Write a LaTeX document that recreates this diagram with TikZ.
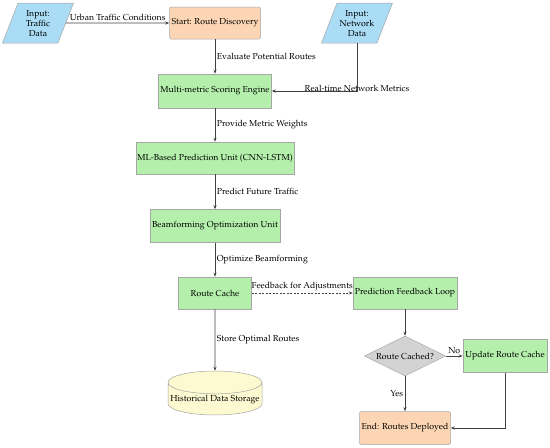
\documentclass[tikz,border=0pt]{standalone}
\usepackage[T1]{fontenc}
\usepackage{mathpazo}
\usetikzlibrary{shapes.geometric,arrows.meta}
\definecolor{inblue}{RGB}{170,220,246}
\definecolor{peach}{RGB}{252,214,180}
\definecolor{lgreen}{RGB}{180,240,172}
\definecolor{lyellow}{RGB}{253,249,208}
\definecolor{lgray}{RGB}{211,211,211}
\definecolor{edge}{RGB}{64,64,64}
\tikzset{
  base/.style={draw=black!35, line width=0.5pt, font=\fontsize{8.7}{10}\selectfont, inner sep=1pt, align=center},
  iobox/.style={base, trapezium, trapezium left angle=61, trapezium right angle=119, fill=inblue, minimum width=71pt, minimum height=40pt, trapezium stretches body},
  termbox/.style={base, rectangle, rounded corners=2pt, fill=peach, minimum height=32pt},
  procbox/.style={base, rectangle, fill=lgreen, minimum height=32pt},
  decbox/.style={base, diamond, aspect=2, fill=lgray, minimum width=81pt, minimum height=40pt},
  storebox/.style={base, cylinder, shape border rotate=90, aspect=0.25, fill=lyellow, minimum width=94pt, minimum height=44pt},
  conn/.style={draw=edge, line width=0.7pt, -{Stealth[length=4pt,width=3pt]}},
  lbl/.style={font=\fontsize{8.7}{10}\selectfont, inner sep=1.5pt}
}
\begin{document}
\begin{tikzpicture}[x=1pt,y=-1pt]
\useasboundingbox (0,0) rectangle (550,448);
\node[iobox] (itd) at (38,23) {Input:\\Traffic\\Data};
\node[termbox, minimum width=91pt] (start) at (215,23) {Start: Route Discovery};
\node[iobox] (net) at (357,23) {Input:\\Network\\Data};
\node[procbox, minimum width=113pt, minimum height=34pt] (mm) at (215,91) {Multi-metric Scoring Engine};
\node[procbox, minimum width=158pt] (ml) at (215,158) {ML-Based Prediction Unit (CNN-LSTM)};
\node[procbox, minimum width=130pt, minimum height=33pt] (bf) at (215,226) {Beamforming Optimization Unit};
\node[procbox, minimum width=73pt] (rc) at (215,293) {Route Cache};
\node[procbox, minimum width=104pt] (pfl) at (405,293) {Prediction Feedback Loop};
\node[decbox] (dia) at (405,356) {Route Cached?};
\node[procbox, minimum width=84pt, minimum height=33pt] (urc) at (505,356) {Update Route Cache};
\node[termbox, minimum width=91pt, minimum height=33pt] (end) at (405,428) {End: Routes Deployed};
\node[storebox] (hist) at (215,400) {Historical Data Storage};

\draw[conn] (itd.east) -- node[lbl, above] {Urban Traffic Conditions} (start.west);
\draw[conn] (start.south) -- node[lbl, right] {Evaluate Potential Routes} (mm.north);
\draw[conn] (net.south) |- node[lbl, pos=0.5, yshift=3pt] {Real-time Network Metrics} (mm.east);
\draw[conn] (mm.south) -- node[lbl, right] {Provide Metric Weights} (ml.north);
\draw[conn] (ml.south) -- node[lbl, right] {Predict Future Traffic} (bf.north);
\draw[conn] (bf.south) -- node[lbl, right] {Optimize Beamforming} (rc.north);
\draw[conn, dash pattern=on 2pt off 1.5pt] (rc.east) -- node[lbl, above] {Feedback for Adjustments} (pfl.west);
\draw[conn] (rc.south) -- node[lbl, right] {Store Optimal Routes} (hist.north);
\draw[conn] (pfl.south) -- (dia.north);
\draw[conn] (dia.east) -- node[lbl, above] {No} (urc.west);
\draw[conn] (dia.south) -- node[lbl, left] {Yes} (end.north);
\draw[conn] (urc.south) |- (end.east);
\end{tikzpicture}
\end{document}
